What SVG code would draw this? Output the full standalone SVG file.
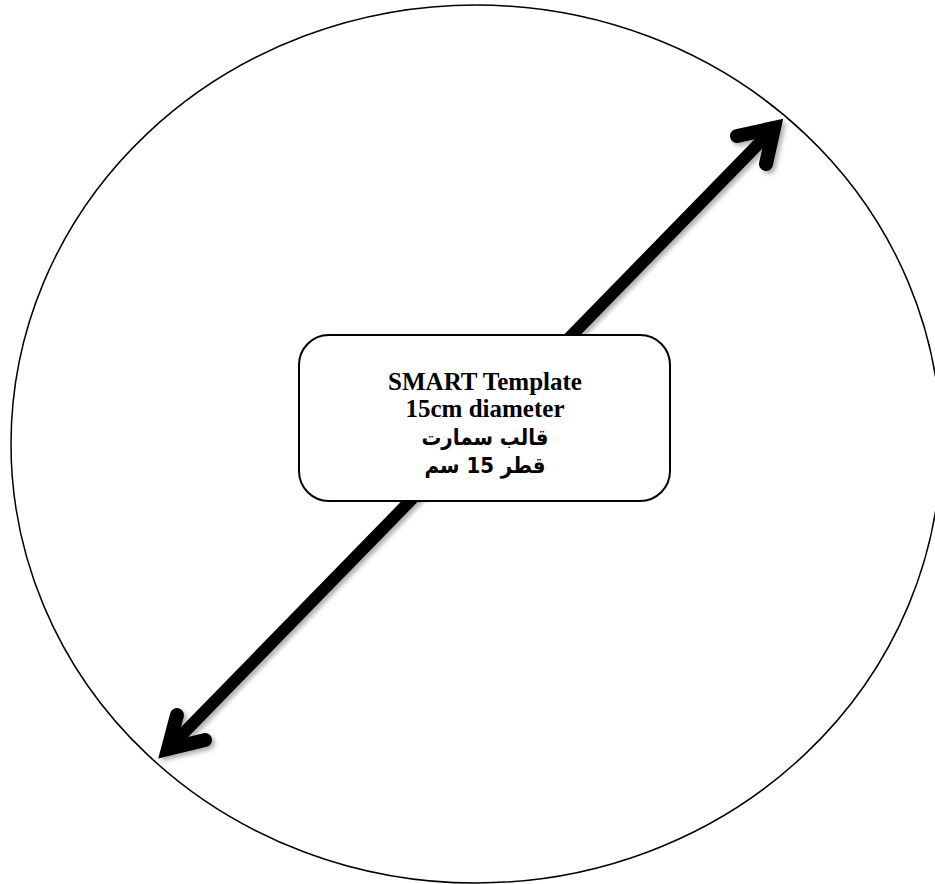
<svg xmlns="http://www.w3.org/2000/svg" width="935" height="884" viewBox="0 0 935 884">
  <style>
    .outline { fill: none; stroke: #000; stroke-width: 1.5; }
    .box { fill: #fff; stroke: #000; stroke-width: 2; }
    .shaft { fill: none; stroke: #000; stroke-width: 12; }
    .head { fill: none; stroke: #000; stroke-width: 14; stroke-linecap: round; stroke-linejoin: miter; stroke-miterlimit: 10; }
    .lat { font-family: "Liberation Serif", "Times New Roman", serif; font-weight: bold; font-size: 25px; text-anchor: middle; fill: #000; }
    .ar { font-family: "DejaVu Sans Condensed", "DejaVu Sans", sans-serif; font-weight: bold; font-size: 22px; text-anchor: middle; fill: #000; }
  </style>
  <defs>
    <filter id="shadow" x="-10%" y="-10%" width="120%" height="120%">
      <feDropShadow dx="3" dy="3" stdDeviation="2" flood-color="#000" flood-opacity="0.3"/>
    </filter>
  </defs>
  <rect width="935" height="884" fill="#fff"/>
  <g id="circle">
    <ellipse class="outline" cx="476" cy="444" rx="465" ry="439"/>
  </g>
  <g id="connectors" filter="url(#shadow)">
    <line class="shaft" x1="170" y1="747" x2="772" y2="130"/>
    <path class="head" d="M737,136 L774,128 L766,164"/>
    <path class="head" d="M177,715 L168,749 L205,740"/>
  </g>
  <g id="label">
    <rect class="box" x="299" y="335" width="371" height="166" rx="30" ry="30"/>
    <text class="lat" x="485" y="390">SMART Template</text>
    <text class="lat" x="485" y="417">15cm diameter</text>
    <text class="ar" x="485" y="445" direction="rtl">قالب سمارت</text>
    <text class="ar" x="485" y="473" direction="rtl">قطر 15 سم</text>
  </g>
</svg>
